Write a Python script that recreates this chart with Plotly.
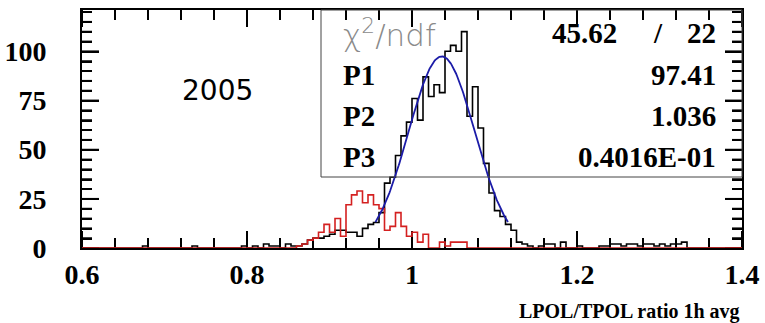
import numpy as np
import plotly.graph_objects as go

# ---------------- data ----------------
x_min, x_max, n_bins = 0.6, 1.4, 120
black_counts = [0]*11 + [1] + [0]*8 + [1] + [0]*8 + [1, 0, 1, 0, 2, 1, 1, 0, 2, 1, 1,
    2, 4, 5, 5, 6, 7, 9, 9, 8, 8,
    6, 10, 12, 13, 18, 33, 36, 47, 57, 64,
    76, 65, 87, 77, 83, 79, 100, 103, 100, 110,
    67, 82, 61, 43, 28, 19, 16, 12, 9, 3,
    2, 1, 0, 1, 2, 2, 0, 3, 0, 0,
    1, 0, 0, 0, 1, 1, 2, 2, 1, 2,
    2, 1, 2, 2, 1, 2, 1, 2, 2, 3,
    0, 0, 0, 0, 0, 0, 0, 0, 0, 0]
red_counts = [0]*39 + [1,
    2, 4, 5, 8, 12, 8, 15, 6, 22, 27,
    29, 23, 27, 22, 20, 9, 11, 18, 11, 6,
    8, 3, 7, 0, 0, 3, 1, 3, 3, 3] + [0]*50

fit_labels = ["P1", "P2", "P3"]
fit_values = [97.41, 1.036, 0.04016]
fit_texts = ["97.41", "1.036", "0.4016E-01"]
chi2, ndf = "45.62", "22"
year_label = "2005"
x_title = "LPOL/TPOL ratio 1h avg"
x_ticks = [0.6, 0.8, 1.0, 1.2, 1.4]
x_ticktext = ["0.6", "0.8", "1", "1.2", "1.4"]
x_minor_step = 0.04
y_ticks = [0, 25, 50, 75, 100]
y_minor_step = 5
y_max = 121

# ---------------- build ----------------
edges = np.linspace(x_min, x_max, n_bins + 1)

def steps(counts):
    return list(edges), list(counts) + [counts[-1]]

W, H = 765, 323
L, R, T, B = 82, 23, 10, 75
pw, ph = W - L - R, H - T - B

def px(x):
    return (x - L) / pw

def py(y):
    return (H - B - y) / ph

fig = go.Figure()

# ---- tick marks as thin bars at the axis tick values
maj_len, min_len, tick_w = 17, 10, 1.8
x_minor = [float(v) for v in np.arange(x_min, x_max + 1e-9, x_minor_step)
           if all(abs(v - t) > 1e-6 for t in x_ticks)]
y_minor = [float(v) for v in np.arange(0, y_max, y_minor_step) if v not in y_ticks]
xw = tick_w / pw * (x_max - x_min)
yw = tick_w / ph * y_max
for vals, ln in ((x_ticks, maj_len), (x_minor, min_len)):
    dy = ln / ph * y_max
    fig.add_trace(go.Bar(x=vals, y=[dy] * len(vals), base=0, width=xw, marker=dict(color="black", line=dict(width=0)),
                         hoverinfo="skip"))
    fig.add_trace(go.Bar(x=vals, y=[dy] * len(vals), base=y_max - dy, width=xw,
                         marker=dict(color="black", line=dict(width=0)), hoverinfo="skip"))
for vals, ln in ((y_ticks, maj_len), (y_minor, min_len)):
    dx = ln / pw * (x_max - x_min)
    fig.add_trace(go.Bar(y=vals, x=[dx] * len(vals), base=x_min, width=yw, orientation="h",
                         marker=dict(color="black", line=dict(width=0)), hoverinfo="skip"))
    fig.add_trace(go.Bar(y=vals, x=[dx] * len(vals), base=x_max - dx, width=yw, orientation="h",
                         marker=dict(color="black", line=dict(width=0)), hoverinfo="skip"))

# ---- histograms and fit
bx, by = steps(black_counts)
fig.add_trace(go.Scatter(x=bx, y=by, mode="lines", line=dict(shape="hv", color="black", width=1.6),
                         hoverinfo="skip"))
rx, ry = steps(red_counts)
fig.add_trace(go.Scatter(x=rx, y=ry, mode="lines", line=dict(shape="hv", color="#d42020", width=1.6),
                         hoverinfo="skip"))
p1, p2, p3 = fit_values
xf = np.linspace(p2 - 2 * p3, p2 + 2 * p3, 200)
yf = p1 * np.exp(-0.5 * ((xf - p2) / p3) ** 2)
fig.add_trace(go.Scatter(x=xf, y=yf, mode="lines", line=dict(color="#1c1ca8", width=1.8),
                         hoverinfo="skip"))

serif = "Liberation Serif"
num_font = dict(family=serif, size=29, color="black", weight="bold")

ann = []
ann.append(dict(x=px(341), y=py(33), text="χ<sup>2</sup>/ndf", xanchor="left", yanchor="middle",
                font=dict(family="DejaVu Sans", size=31, color="#8a8a8a", weight=200)))
ann.append(dict(x=px(619), y=py(33), text=chi2, xanchor="right", yanchor="middle", font=num_font))
ann.append(dict(x=px(658), y=py(33), text="/", xanchor="center", yanchor="middle", font=num_font))
ann.append(dict(x=px(718), y=py(33), text=ndf, xanchor="right", yanchor="middle", font=num_font))
row_y = [75, 116, 157]
for lab, txt, yy in zip(fit_labels, fit_texts, row_y):
    ann.append(dict(x=px(341), y=py(yy), text=lab, xanchor="left", yanchor="middle", font=num_font))
    ann.append(dict(x=px(718), y=py(yy), text=txt, xanchor="right", yanchor="middle", font=num_font))
ann.append(dict(x=px(217), y=py(90), text=year_label, xanchor="center", yanchor="middle",
                font=dict(family="DejaVu Sans", size=28, color="black")))
ann.append(dict(x=1.0, y=py(311), text=x_title, xanchor="right", yanchor="middle",
                font=dict(family=serif, size=20, color="black", weight="bold")))
for a in ann:
    a.update(xref="paper", yref="paper", showarrow=False)

fig.update_layout(
    template="none",
    width=W, height=H,
    margin=dict(l=L, r=R, t=T, b=B),
    paper_bgcolor="white", plot_bgcolor="white",
    showlegend=False,
    barmode="overlay",
    annotations=ann,
    shapes=[dict(type="rect", xref="paper", yref="paper", x0=px(321), x1=1.0, y0=py(177), y1=1.0,
                 line=dict(color="#444444", width=1), fillcolor="rgba(0,0,0,0)", layer="above")],
)
fig.update_xaxes(range=[x_min, x_max], tickmode="array", tickvals=x_ticks, ticktext=x_ticktext,
                 showline=True, linecolor="black", linewidth=2, mirror=True, ticks="",
                 showgrid=False, zeroline=False, automargin=False,
                 tickfont=dict(family=serif, size=28, color="black", weight="bold"))
fig.update_yaxes(range=[0, y_max], tickmode="array", tickvals=y_ticks,
                 ticktext=[str(v) + "\u00a0\u00a0\u00a0\u00a0" for v in y_ticks],
                 showline=True, linecolor="black", linewidth=2, mirror=True, ticks="",
                 showgrid=False, zeroline=False, automargin=False,
                 tickfont=dict(family=serif, size=28, color="black", weight="bold"))

fig.write_html("out.html")
